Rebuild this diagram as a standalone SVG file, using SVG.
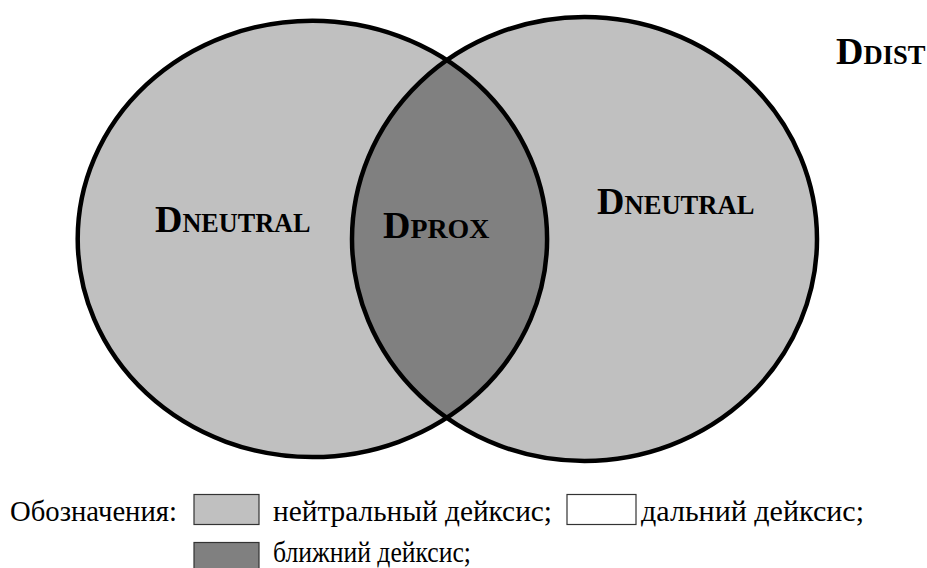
<svg xmlns="http://www.w3.org/2000/svg" width="927" height="568" viewBox="0 0 927 568">
<style>
.lbl{font-family:"Liberation Serif","Times New Roman","DejaVu Serif",serif;font-weight:bold;fill:#000}
.big{font-size:38px}
.sm{font-size:27px}
.leg{font-family:"Liberation Serif","Times New Roman","DejaVu Serif",serif;font-size:29px;fill:#000}
.edge{fill:none;stroke:#000;stroke-width:4.5}
.box{stroke:#333;stroke-width:1.2}
</style>
<defs>
<clipPath id="clipL"><ellipse cx="312.4" cy="238.9" rx="234.7" ry="218.2"/></clipPath>
</defs>
<rect width="927" height="568" fill="#fff"/>
<g id="neutral-left">
<ellipse cx="312.4" cy="238.9" rx="234.7" ry="218.2" fill="#c0c0c0"/>
</g>
<g id="neutral-right">
<ellipse cx="584.5" cy="239" rx="232.5" ry="222" fill="#c0c0c0"/>
</g>
<g id="prox">
<ellipse cx="584.5" cy="239" rx="232.5" ry="222" fill="#808080" clip-path="url(#clipL)"/>
</g>
<g id="outlines">
<ellipse class="edge" cx="312.4" cy="238.9" rx="234.7" ry="218.2"/>
<ellipse class="edge" cx="584.5" cy="239" rx="232.5" ry="222"/>
</g>
<g id="labels">
<text class="lbl" x="155" y="232"><tspan class="big" font-size="40">D</tspan><tspan class="sm" textLength="128" lengthAdjust="spacingAndGlyphs">NEUTRAL</tspan></text>
<text class="lbl" x="383" y="238"><tspan class="big" font-size="36">D</tspan><tspan class="sm" textLength="79" lengthAdjust="spacingAndGlyphs">PROX</tspan></text>
<text class="lbl" x="597" y="214"><tspan class="big" font-size="37">D</tspan><tspan class="sm" textLength="130" lengthAdjust="spacingAndGlyphs">NEUTRAL</tspan></text>
<text class="lbl" x="836" y="64"><tspan class="big" font-size="35">D</tspan><tspan class="sm" font-size="26" textLength="62" lengthAdjust="spacingAndGlyphs">DIST</tspan></text>
</g>
<g id="legend">
<text class="leg" x="10" y="521" textLength="167" lengthAdjust="spacingAndGlyphs">Обозначения:</text>
<rect class="box" x="194" y="494.5" width="65" height="30" fill="#c0c0c0"/>
<text class="leg" x="273" y="521" textLength="279" lengthAdjust="spacingAndGlyphs">нейтральный дейксис;</text>
<rect class="box" x="567" y="494.5" width="69" height="30" fill="#fff"/>
<text class="leg" x="641" y="521" textLength="223" lengthAdjust="spacingAndGlyphs">дальний дейксис;</text>
<rect class="box" x="194" y="542.5" width="65" height="30" fill="#808080"/>
<text class="leg" x="273" y="562" textLength="198" lengthAdjust="spacingAndGlyphs">ближний дейксис;</text>
</g>
</svg>
